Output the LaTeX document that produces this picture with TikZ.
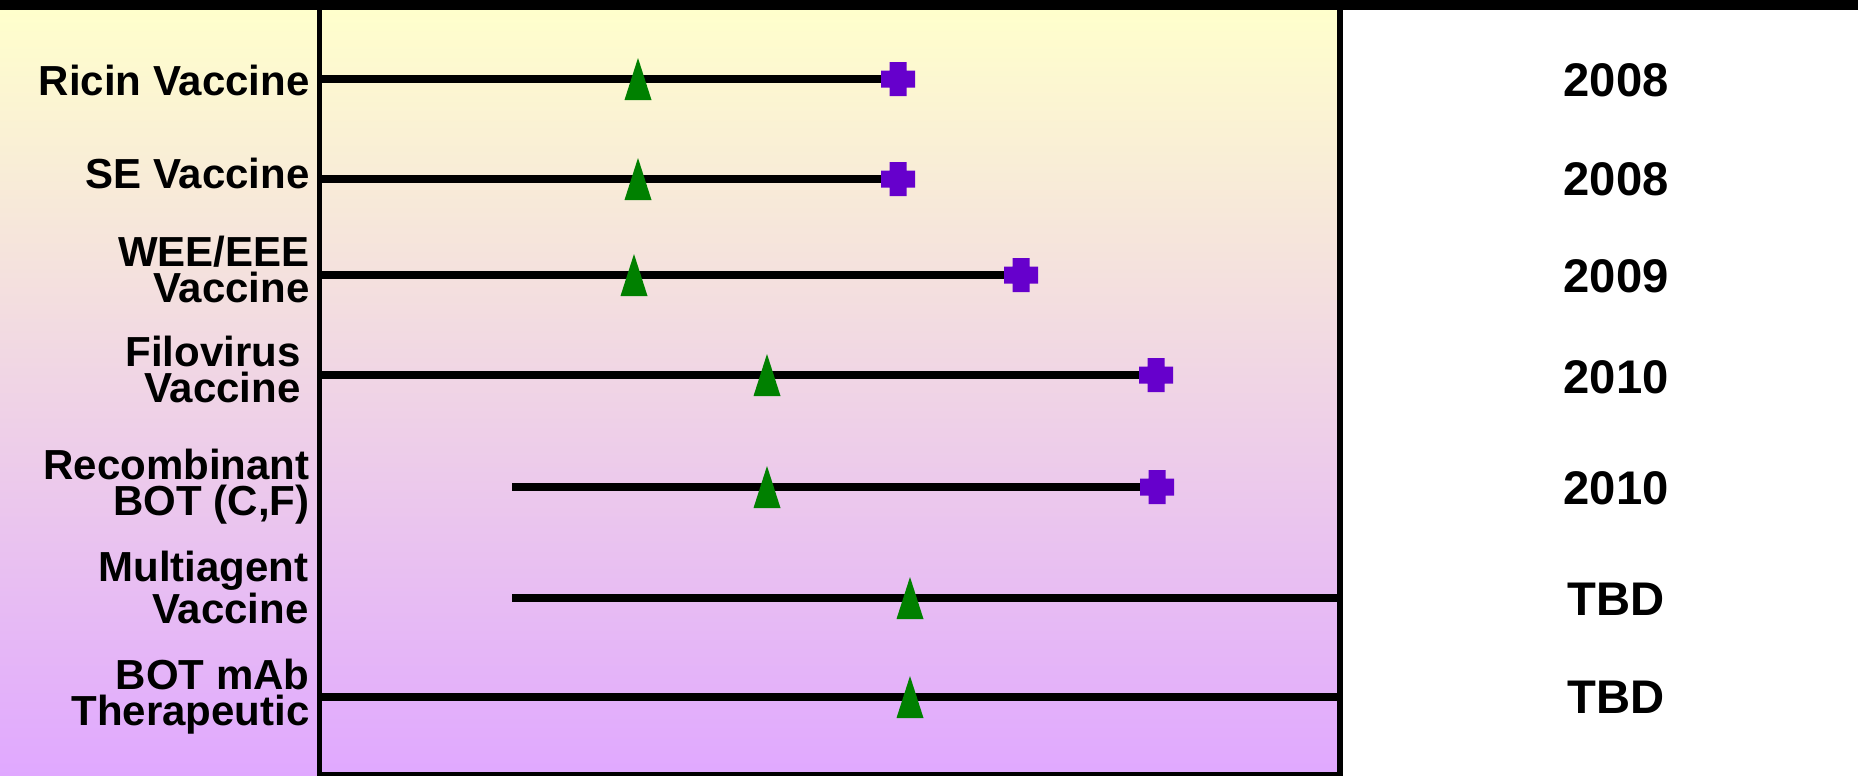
\documentclass[tikz,border=0pt]{standalone}
\usepackage{fontspec}
\setmainfont{Liberation Sans}
\definecolor{bgtop}{RGB}{255,255,204}
\definecolor{bgbot}{RGB}{224,168,255}
\definecolor{trigreen}{RGB}{0,128,0}
\definecolor{plusviolet}{RGB}{102,0,204}
\begin{document}
\begin{tikzpicture}[x=0.5pt,y=-0.5pt,
  lbl/.style={anchor=base east, align=right, inner sep=0pt,
    font=\fontsize{21}{17.75}\selectfont\bfseries},
  yr/.style={anchor=center, inner sep=0pt,
    font=\fontsize{23.6}{28}\selectfont\bfseries},
  rowline/.style={line width=4pt},
  frameline/.style={line width=2.7pt},
  tri/.pic={\fill[trigreen] (-13.5,21) -- (0,-21) -- (13.5,21) -- cycle;},
  plus/.pic={\fill[plusviolet] (-8.5,-17) -- (8.5,-17) -- (8.5,-8.5) -- (17,-8.5)
     -- (17,8.5) -- (8.5,8.5) -- (8.5,17) -- (-8.5,17) -- (-8.5,8.5)
     -- (-17,8.5) -- (-17,-8.5) -- (-8.5,-8.5) -- cycle;}
  ]
\useasboundingbox (0,0) rectangle (1858,776);
\fill[white] (0,0) rectangle (1858,776);
\shade[top color=bgtop, bottom color=bgbot] (0,9) rectangle (1340,776);
\fill[black] (0,0) rectangle (1858,9.5);

% frame
\coordinate (ftl) at (319.5,9);
\coordinate (fbl) at (319.5,775);
\coordinate (fbr) at (1340,775);
\coordinate (ftr) at (1340,9);
\draw[frameline] (ftl) -- (fbl) -- (fbr) -- (ftr);

% row coordinates
\coordinate (s1) at (319,79);   \coordinate (e1) at (898,79);
\coordinate (s2) at (319,179);  \coordinate (e2) at (898,179);
\coordinate (s3) at (319,275);  \coordinate (e3) at (1021,275);
\coordinate (s4) at (319,375);  \coordinate (e4) at (1156,375);
\coordinate (s5) at (512,487);  \coordinate (e5) at (1157,487);
\coordinate (s6) at (512,598);  \coordinate (e6) at (1340,598);
\coordinate (s7) at (319,697);  \coordinate (e7) at (1340,697);

\foreach \i in {1,...,7} {\draw[rowline] (s\i) -- (e\i);}

% triangles
\coordinate (t1) at (638,79);
\coordinate (t2) at (638,179);
\coordinate (t3) at (634,275);
\coordinate (t4) at (767,375);
\coordinate (t5) at (767,487);
\coordinate (t6) at (910,598);
\coordinate (t7) at (910,697);
\foreach \i in {1,...,7} {\pic at (t\i) {tri};}

% plus markers
\foreach \i in {1,...,5} {\pic at (e\i) {plus};}

% labels (base anchor = baseline of the last line)
\node[lbl] (l1) at (310,95) {Ricin Vaccine};
\node[lbl] (l2) at (310,188) {SE Vaccine};
\node[lbl] (l3) at (310,302) {WEE/EEE\\Vaccine};
\node[lbl] (l4) at (301,402) {Filovirus\\Vaccine};
\node[lbl] (l5) at (310,515) {Recombinant\\BOT (C,F)};
\node[lbl] (l6) at (309,623) {Multiagent\\Vaccine};
\node[lbl] (l7) at (310,725) {BOT mAb\\Therapeutic};

% years
\node[yr] (y1) at (1616,80) {2008};
\node[yr] (y2) at (1616,179) {2008};
\node[yr] (y3) at (1616,276.5) {2009};
\node[yr] (y4) at (1616,377) {2010};
\node[yr] (y5) at (1616,488) {2010};
\node[yr] (y6) at (1616,599) {TBD};
\node[yr] (y7) at (1616,697.5) {TBD};
\end{tikzpicture}
\end{document}
